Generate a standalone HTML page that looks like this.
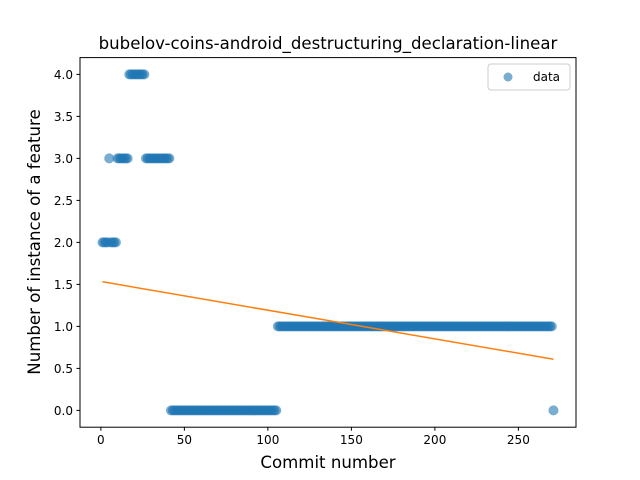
<!DOCTYPE html>
<html><head><meta charset="utf-8"><style>
body{margin:0;background:#fff}
svg{display:block;font-family:"DejaVu Sans","Liberation Sans",sans-serif}
</style></head><body>
<svg id="c" width="640" height="480" viewBox="0 0 640 480" xmlns="http://www.w3.org/2000/svg">
<rect width="640" height="480" fill="#fff"/>
<g id="marks"></g>
<g id="axes"></g>
<text x="328" y="49" text-anchor="middle" font-size="16.6" fill="#000">bubelov-coins-android_destructuring_declaration-linear</text>
<text x="328" y="468" text-anchor="middle" font-size="16.6" fill="#000">Commit number</text>
<text transform="translate(40,242) rotate(-90)" text-anchor="middle" font-size="16.6" fill="#000">Number of instance of a feature</text>
<g>
<rect x="488" y="64" width="82" height="26" rx="3" fill="#fff" stroke="#ccc" stroke-width="1"/>
<circle cx="508" cy="77" r="4.5" fill="#1f77b4" fill-opacity="0.6"/>
<text x="533" y="81" font-size="12" fill="#000">data</text>
</g>
</svg>
<script>
const segStarts = [1, 5, 6, 10, 17, 27, 42, 106, 271];
const segEnds   = [4, 5, 9, 16, 26, 41, 105, 270, 271];
const segValues = [2, 3, 2, 3, 4, 3, 0, 1, 0];
const xTicks = [0, 50, 100, 150, 200, 250];
const yTicks = [0.0, 0.5, 1.0, 1.5, 2.0, 2.5, 3.0, 3.5, 4.0];

const L=80,R=576,T=57.6,B=427.2;
const xmin=-12.5,xmax=284.5,ymin=-0.2,ymax=4.2;
const sx=v=>L+(v-xmin)/(xmax-xmin)*(R-L);
const sy=v=>B-(v-ymin)/(ymax-ymin)*(B-T);
const NS="http://www.w3.org/2000/svg";
const mk=(t,a,p)=>{const e=document.createElementNS(NS,t);for(const k in a)e.setAttribute(k,a[k]);p.appendChild(e);return e;};
const marks=document.getElementById('marks'), axes=document.getElementById('axes');

const xs=[],ys=[];
for(let s=0;s<segStarts.length;s++){for(let x=segStarts[s];x<=segEnds[s];x++){xs.push(x);ys.push(segValues[s]);}}
xs.forEach((x,i)=>{
  const c=mk('circle',{cx:sx(x),cy:sy(ys[i]),r:5,fill:'#1f77b4','fill-opacity':0.6},marks);
  
  
});
const n=xs.length,mx=xs.reduce((a,b)=>a+b)/n,my=ys.reduce((a,b)=>a+b)/n;
let num=0,den=0;xs.forEach((x,i)=>{num+=(x-mx)*(ys[i]-my);den+=(x-mx)*(x-mx);});
const m=num/den,b0=my-m*mx;
const x0=xs[0],x1=xs[n-1];
const ln=mk('line',{x1:sx(x0),y1:sy(m*x0+b0),x2:sx(x1),y2:sy(m*x1+b0),stroke:'#ff7f0e','stroke-width':1.5},marks);



const fr=mk('rect',{x:L,y:T,width:R-L,height:B-T,fill:'none',stroke:'#000','stroke-width':1},axes);


xTicks.forEach(v=>{
  mk('line',{x1:sx(v),y1:B,x2:sx(v),y2:B+3.5,stroke:'#000'},axes);
  const t=mk('text',{x:sx(v),y:B+17,'text-anchor':'middle','font-size':12},axes);
  t.textContent=v;
  
  
});
yTicks.forEach(v=>{
  mk('line',{x1:L-3.5,y1:sy(v),x2:L,y2:sy(v),stroke:'#000'},axes);
  const t=mk('text',{x:L-7,y:sy(v)+4.5,'text-anchor':'end','font-size':12},axes);
  t.textContent=v.toFixed(1);
  
  
});
</script>
</body></html>
